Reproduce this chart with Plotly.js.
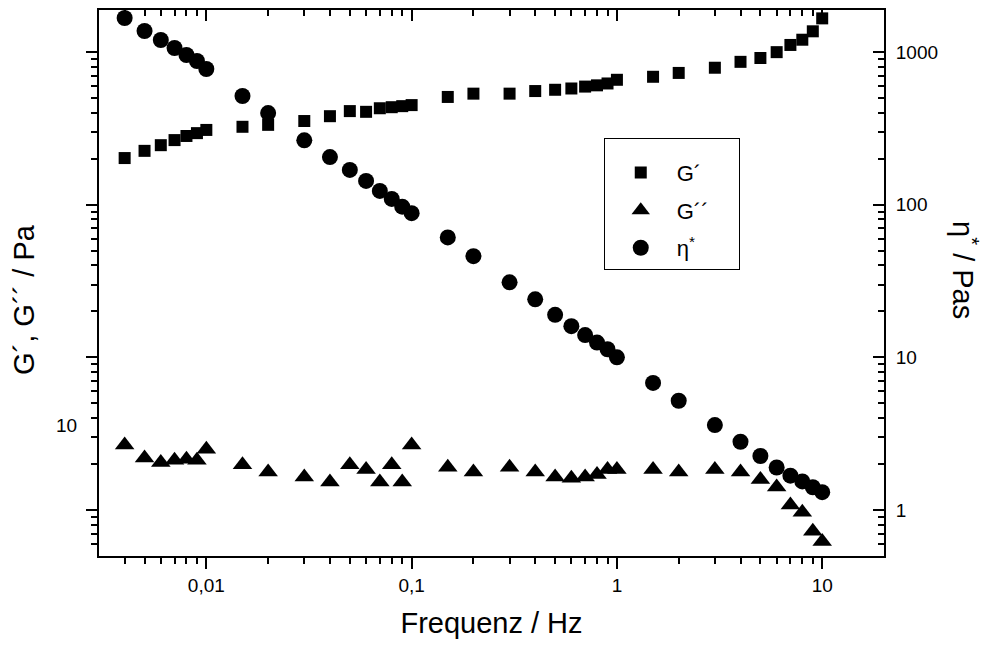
<!DOCTYPE html>
<html>
<head>
<meta charset="utf-8">
<script src="https://cdn.plot.ly/plotly-3.0.1.min.js"></script>
<style>html,body{margin:0;padding:0;background:#fff;}#chart{width:989px;height:646px;}</style>
</head>
<body>
<div id="chart"></div>
<script>
// Frequencies (Hz)
const freq = [0.004,0.005,0.006,0.007,0.008,0.009,0.01,0.015,0.02,0.03,0.04,0.05,0.06,0.07,0.08,0.09,0.1,
  0.15,0.2,0.3,0.4,0.5,0.6,0.7,0.8,0.9,1,1.5,2,3,4,5,6,7,8,9,10];
// Storage modulus G' (Pa)
const gPrime = [41.1,42.7,44.0,45.2,46.2,46.9,47.7,48.5,49.0,50.0,51.3,52.7,52.5,53.5,53.8,54.1,54.4,
  56.8,57.8,57.8,58.6,59.0,59.4,60.0,60.4,61.0,62.2,63.2,64.5,66.3,68.4,69.8,72.0,74.8,76.9,80.4,86.1];
// Loss modulus G'' (Pa)
const gDouble = [9.0,8.4,8.2,8.3,8.35,8.3,8.8,8.1,7.8,7.6,7.4,8.1,7.9,7.4,8.1,7.4,9.0,
  8.0,7.8,8.0,7.8,7.6,7.55,7.6,7.7,7.9,7.9,7.9,7.8,7.9,7.8,7.5,7.2,6.55,6.3,5.7,5.4];
// Complex viscosity eta* (Pas)
const etaStar = [1670,1373,1198,1062,956,873,774,515,398,264,205,169,143,123,109,97,88,
  61,46,31,24,19,16,14,12.5,11.3,10,6.8,5.2,3.6,2.8,2.26,1.9,1.68,1.54,1.41,1.31];

const xTickVals = [0.01,0.1,1,10];
const xTickText = ["0,01","0,1","1","10"];
const etaTickVals = [1,10,100,1000];
const etaTickText = ["1","10","100","1000"];
const gTickVals = [10];
const gTickText = ["10"];

function minorTicks(lo, hi){
  const out=[];
  for(let e=-4;e<=4;e++){
    for(let d=2;d<=9;d++){
      const v=d*Math.pow(10,e);
      if(v>lo*1.0001 && v<hi*0.9999) out.push(v);
    }
  }
  return out;
}

const xRange=[0.003,20];
const etaRange=[0.5,1884];
const gRange=[5,90];
const FONT='Liberation Sans, Arial, sans-serif';
const NB='\u00a0';

const traces=[
  {x:freq,y:gPrime,name:'G´',type:'scatter',mode:'markers',xaxis:'x',yaxis:'y',
   marker:{symbol:'square',size:12,color:'#000'},legendgroup:'a'},
  {x:freq,y:gDouble,name:'G´´'+NB+NB+NB+NB,type:'scatter',mode:'markers',xaxis:'x',yaxis:'y',
   marker:{symbol:'triangle-up',size:17,color:'#000'},legendgroup:'b'},
  {x:freq,y:etaStar,name:'η<sup>*</sup>',type:'scatter',mode:'markers',xaxis:'x',yaxis:'y2',
   marker:{symbol:'circle',size:16,color:'#000'},legendgroup:'c'}
];

const lg=v=>Math.log10(v);
const baseAxis={type:'log',showgrid:false,zeroline:false,linecolor:'#000',linewidth:2,
  tickcolor:'#000',tickwidth:2,tickfont:{family:FONT,size:19,color:'#000'}};

const layout={
  width:989,height:646,
  margin:{l:99,r:105,t:10,b:90},
  paper_bgcolor:'#fff',plot_bgcolor:'#fff',
  font:{family:FONT,color:'#000'},
  showlegend:true,
  legend:{x:0.643,y:0.766,xanchor:'left',yanchor:'top',bordercolor:'#000',borderwidth:1,
    bgcolor:'#fff',font:{family:FONT,size:22,color:'#000'},tracegroupgap:6,itemwidth:62,
    title:{text:NB,font:{size:10}}},
  xaxis:Object.assign({},baseAxis,{range:[lg(xRange[0]),lg(xRange[1])],tickmode:'array',
    tickvals:xTickVals,ticktext:xTickText,ticks:'outside',ticklen:11,
    minor:{tickmode:'array',tickvals:minorTicks(xRange[0],xRange[1]),ticks:'outside',ticklen:6,tickwidth:2,tickcolor:'#000',showgrid:false},
    title:{text:'Frequenz / Hz',font:{family:FONT,size:29,color:'#000'},standoff:18}}),
  xaxis2:Object.assign({},baseAxis,{range:[lg(xRange[0]),lg(xRange[1])],overlaying:'x',side:'top',
    tickmode:'array',tickvals:xTickVals,showticklabels:false,ticks:'inside',ticklen:11,
    minor:{tickmode:'array',tickvals:minorTicks(xRange[0],xRange[1]),ticks:'inside',ticklen:6,tickwidth:2,tickcolor:'#000',showgrid:false}}),
  yaxis:Object.assign({},baseAxis,{range:[lg(gRange[0]),lg(gRange[1])],tickmode:'array',
    tickvals:gTickVals,ticktext:gTickText,ticks:'outside',ticklen:16,tickcolor:'rgba(0,0,0,0)'}),
  yaxis3:Object.assign({},baseAxis,{range:[lg(etaRange[0]),lg(etaRange[1])],overlaying:'y',side:'left',
    tickmode:'array',tickvals:etaTickVals,showticklabels:false,ticks:'outside',ticklen:11,
    minor:{tickmode:'array',tickvals:minorTicks(etaRange[0],etaRange[1]),ticks:'outside',ticklen:6,tickwidth:2,tickcolor:'#000',showgrid:false}}),
  yaxis2:Object.assign({},baseAxis,{range:[lg(etaRange[0]),lg(etaRange[1])],overlaying:'y',side:'right',
    tickmode:'array',tickvals:etaTickVals,ticktext:etaTickText,ticks:'inside',ticklen:11,ticklabelstandoff:6,
    minor:{tickmode:'array',tickvals:minorTicks(etaRange[0],etaRange[1]),ticks:'inside',ticklen:6,tickwidth:2,tickcolor:'#000',showgrid:false}}),
  annotations:[
    {text:'G´, G´´ / Pa',xref:'paper',yref:'paper',x:-0.0955,y:0.469,xanchor:'center',yanchor:'middle',
     textangle:-90,showarrow:false,font:{family:FONT,size:29,color:'#000'}},
    {text:'η<sup>*</sup> / Pas',xref:'paper',yref:'paper',x:1.103,y:0.524,xanchor:'center',yanchor:'middle',
     textangle:90,showarrow:false,font:{family:FONT,size:29,color:'#000'}}
  ]
};

// dummy trace so overlay axes get drawn
traces.push({x:[xRange[0]],y:[etaRange[0]],xaxis:'x2',yaxis:'y3',type:'scatter',mode:'markers',
  marker:{opacity:0},showlegend:false,hoverinfo:'skip'});

Plotly.newPlot('chart',traces,layout,{staticPlot:true,displayModeBar:false});
</script>
</body>
</html>
